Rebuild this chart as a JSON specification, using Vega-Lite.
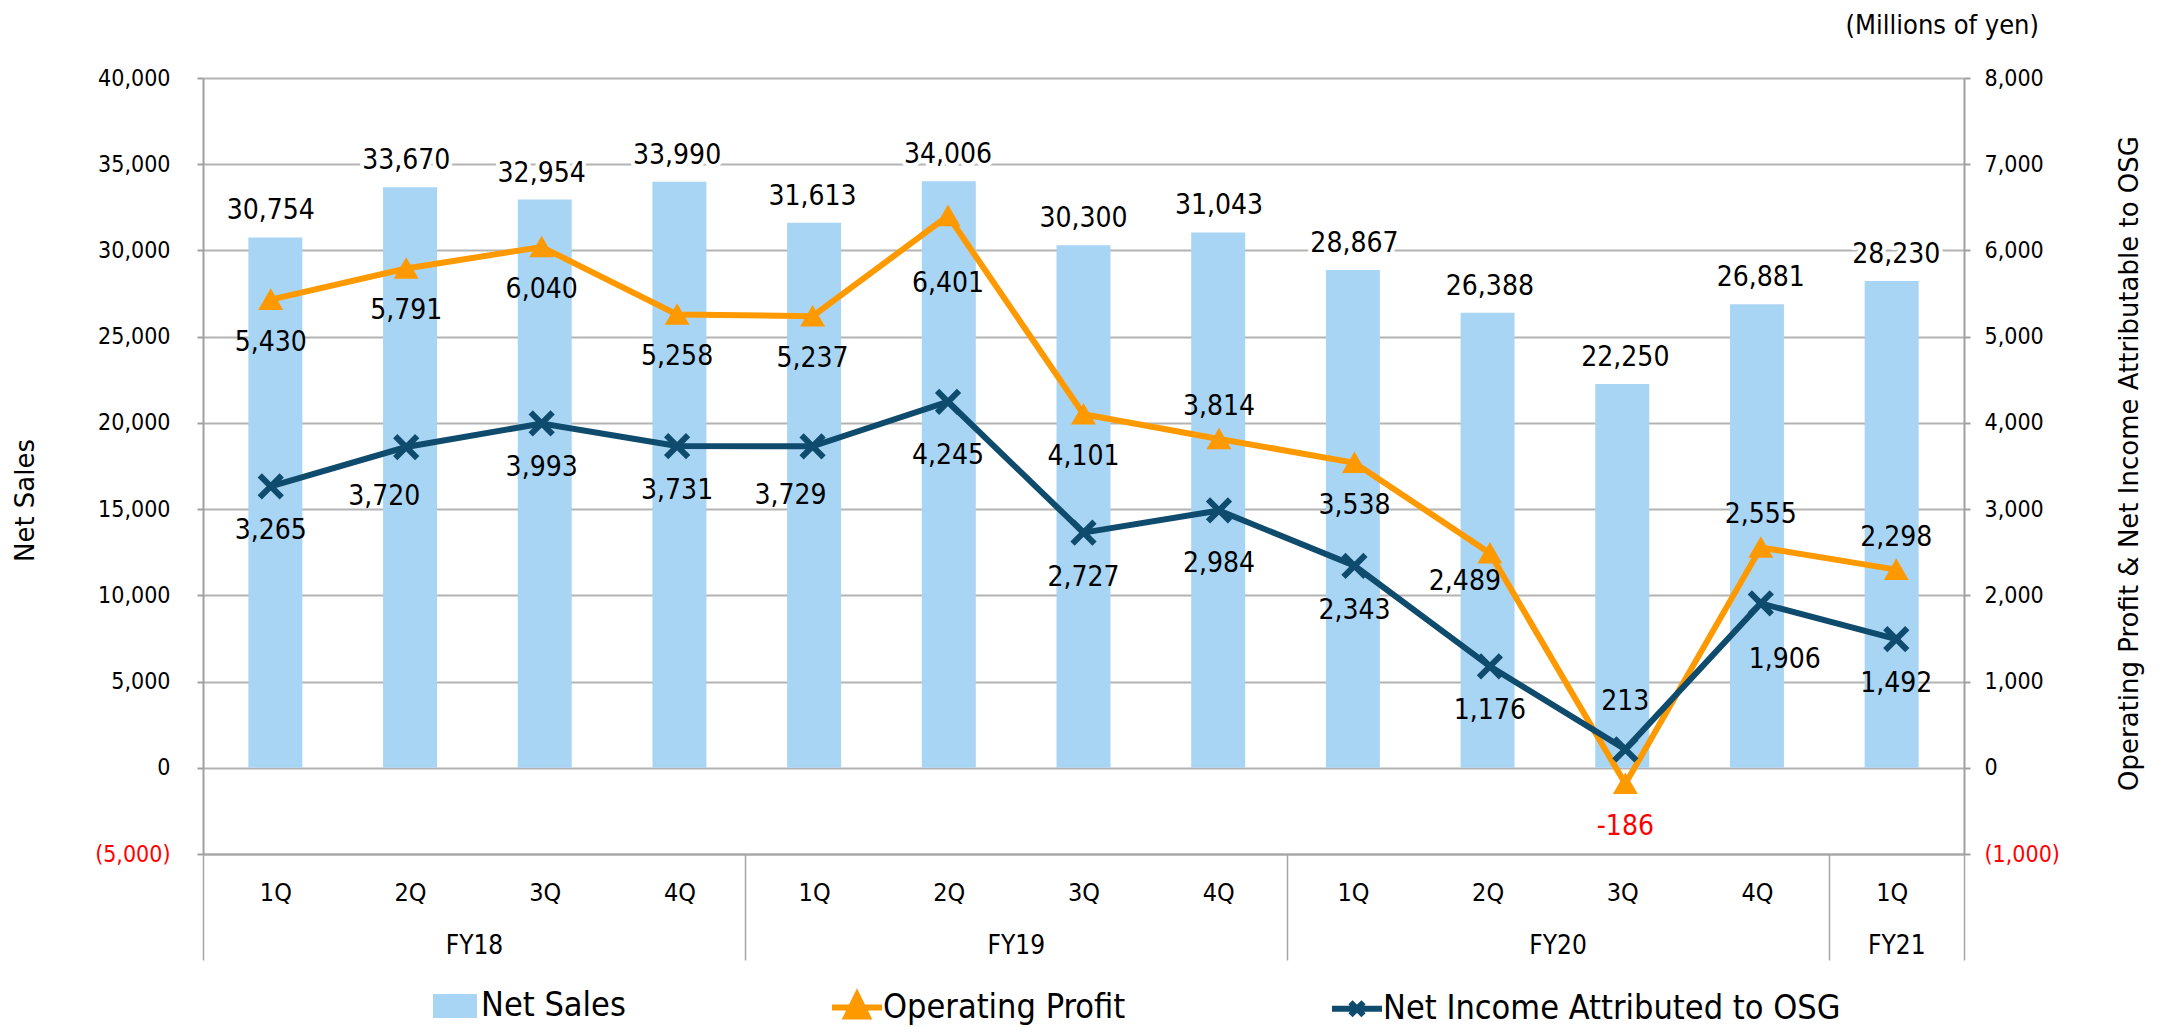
{
  "$schema": "https://vega.github.io/schema/vega-lite/v6.json",
  "width": 1761,
  "height": 776,
  "autosize": {"type": "none"},
  "padding": {"left": 203, "top": 78, "right": 197, "bottom": 173},
  "background": "white",
  "config": {
    "locale": {"number": {"decimal": ".", "thousands": ",", "grouping": [3], "currency": ["$", ""], "minus": "-"}},
    "view": {"stroke": null},
    "font": "DejaVu Sans Condensed",
    "axis": {"labelFont": "DejaVu Sans Condensed", "labelColor": "#000000", "titleFont": "DejaVu Sans", "titleFontWeight": "normal", "titleColor": "#000000"},
    "title": {"font": "DejaVu Sans Condensed", "fontWeight": "normal", "color": "#000000"}
  },
  "title": {"text": "(Millions of yen)", "anchor": "end", "frame": "group", "orient": "top", "fontSize": 27, "dx": 75, "offset": 14, "baseline": "middle"},
  "data": {"values": [
    {"i": 1, "q": "1Q", "fy": "FY18", "sales": 30754, "op": 5430, "ni": 3265},
    {"i": 2, "q": "2Q", "fy": "FY18", "sales": 33670, "op": 5791, "ni": 3720},
    {"i": 3, "q": "3Q", "fy": "FY18", "sales": 32954, "op": 6040, "ni": 3993},
    {"i": 4, "q": "4Q", "fy": "FY18", "sales": 33990, "op": 5258, "ni": 3731},
    {"i": 5, "q": "1Q", "fy": "FY19", "sales": 31613, "op": 5237, "ni": 3729},
    {"i": 6, "q": "2Q", "fy": "FY19", "sales": 34006, "op": 6401, "ni": 4245},
    {"i": 7, "q": "3Q", "fy": "FY19", "sales": 30300, "op": 4101, "ni": 2727},
    {"i": 8, "q": "4Q", "fy": "FY19", "sales": 31043, "op": 3814, "ni": 2984},
    {"i": 9, "q": "1Q", "fy": "FY20", "sales": 28867, "op": 3538, "ni": 2343},
    {"i": 10, "q": "2Q", "fy": "FY20", "sales": 26388, "op": 2489, "ni": 1176},
    {"i": 11, "q": "3Q", "fy": "FY20", "sales": 22250, "op": -186, "ni": 213},
    {"i": 12, "q": "4Q", "fy": "FY20", "sales": 26881, "op": 2555, "ni": 1906},
    {"i": 13, "q": "1Q", "fy": "FY21", "sales": 28230, "op": 2298, "ni": 1492}
  ]},
  "resolve": {"scale": {"x": "independent", "y": "independent"}, "axis": {"x": "independent", "y": "independent"}},
  "layer": [
    {
      "mark": {"type": "bar", "size": 54},
      "encoding": {
        "x": {"field": "i", "type": "quantitative",
          "scale": {"domain": [0.5, 13.5], "nice": false, "zero": false},
          "axis": {"orient": "bottom", "values": [1,2,3,4,5,6,7,8,9,10,11,12,13],
            "labelExpr": "['1Q','2Q','3Q','4Q'][(datum.value - 1) % 4]",
            "ticks": false, "grid": false, "domain": true, "domainColor": "#a6a6a6", "domainWidth": 2,
            "labelPadding": 26, "labelFontSize": 25, "labelFlush": false, "labelOverlap": false, "title": null}},
        "y": {"field": "sales", "type": "quantitative",
          "scale": {"domain": [-5000, 40000], "nice": false, "zero": false},
          "axis": {"orient": "left", "values": [-5000,0,5000,10000,15000,20000,25000,30000,35000,40000],
            "labelExpr": "datum.value < 0 ? '(' + format(-datum.value, ',') + ')' : format(datum.value, ',')",
            "labelColor": {"condition": {"test": "datum.value < 0", "value": "#ff0000"}, "value": "#000000"},
            "labelFontSize": 23, "labelPadding": 27,
            "grid": true, "gridColor": "#b3b3b3", "gridWidth": 2,
            "domain": true, "domainColor": "#a0a0a0", "domainWidth": 2,
            "ticks": true, "tickSize": 6, "tickColor": "#a0a0a0", "tickWidth": 2,
            "title": "Net Sales", "titleFontSize": 26, "titleAngle": 270,
            "titleX": -178, "titleY": 422, "titleAlign": "center", "titleBaseline": "middle"}},
        "color": {"datum": "Net Sales", "type": "nominal",
          "scale": {"domain": ["Net Sales", "Operating Profit", "Net Income Attributed to OSG"], "range": ["#a9d5f5", "#ff9900", "#0e4b6d"]},
          "legend": {"orient": "none", "legendX": 224, "legendY": 900, "direction": "horizontal", "title": null,
            "symbolSize": 2500, "labelFontSize": 34, "labelFont": "DejaVu Sans Condensed", "labelColor": "#000000", "labelLimit": 0,
            "columnPadding": 194, "labelOffset": -2, "padding": 0, "symbolStrokeWidth": 6,
            "encode": {"symbols": {"update": {
              "shape": {"signal": "datum.value === 'Net Sales' ? 'M-0.88,-0.48H0.88V0.48H-0.88Z' : datum.value === 'Operating Profit' ? 'M-1,0H1M0,-0.5L0.42,0.36H-0.42Z' : 'M-1,0H1M-0.26,-0.26L0.26,0.26M-0.26,0.26L0.26,-0.26'"},
              "fill": {"signal": "datum.value === 'Net Sales' ? '#a9d5f5' : datum.value === 'Operating Profit' ? '#ff9900' : 'transparent'"},
              "stroke": {"signal": "datum.value === 'Net Sales' ? 'transparent' : datum.value === 'Operating Profit' ? '#ff9900' : '#0e4b6d'"},
              "strokeWidth": {"value": 6},
              "opacity": {"value": 1}
            }}}}}
      }
    },
    {
      "mark": {"type": "text", "fontSize": 28, "font": "DejaVu Sans Condensed", "baseline": "middle", "align": "center", "dy": -26, "stroke": "#ffffff", "strokeWidth": 8, "strokeJoin": "round", "fill": "#ffffff"},
      "encoding": {
        "x": {"field": "i", "type": "quantitative", "scale": {"domain": [0.5, 13.5], "nice": false, "zero": false}, "axis": null},
        "y": {"field": "sales", "type": "quantitative", "scale": {"domain": [-5000, 40000], "nice": false, "zero": false}, "axis": null},
        "text": {"field": "sales", "type": "quantitative", "format": ","}
      }
    },
    {
      "mark": {"type": "text", "fontSize": 28, "font": "DejaVu Sans Condensed", "baseline": "middle", "align": "center", "dy": -26, "color": "#000000"},
      "encoding": {
        "x": {"field": "i", "type": "quantitative", "scale": {"domain": [0.5, 13.5], "nice": false, "zero": false}, "axis": null},
        "y": {"field": "sales", "type": "quantitative", "scale": {"domain": [-5000, 40000], "nice": false, "zero": false}, "axis": null},
        "text": {"field": "sales", "type": "quantitative", "format": ","}
      }
    },
    {
      "mark": {"type": "line", "color": "#ff9900", "strokeWidth": 6},
      "encoding": {
        "x": {"field": "i", "type": "quantitative", "scale": {"domain": [0.5, 13.5], "nice": false, "zero": false}, "axis": null},
        "y": {"field": "op", "type": "quantitative", "scale": {"domain": [-1000, 8000], "nice": false, "zero": false},
          "axis": {"orient": "right", "values": [-1000,0,1000,2000,3000,4000,5000,6000,7000,8000],
            "labelExpr": "datum.value < 0 ? '(' + format(-datum.value, ',') + ')' : format(datum.value, ',')",
            "labelColor": {"condition": {"test": "datum.value < 0", "value": "#ff0000"}, "value": "#000000"},
            "labelFontSize": 23, "labelPadding": 14, "grid": false,
            "domain": true, "domainColor": "#a0a0a0", "domainWidth": 2,
            "ticks": true, "tickSize": 6, "tickColor": "#a0a0a0", "tickWidth": 2,
            "title": "Operating Profit & Net Income Attributable to OSG", "titleFontSize": 26, "titleAngle": 270,
            "titleX": 165, "titleY": 385, "titleAlign": "center", "titleBaseline": "middle"}}
      }
    },
    {
      "mark": {"type": "point", "shape": "triangle-up", "filled": true, "size": 460, "color": "#ff9900", "stroke": "#ff9900", "strokeWidth": 2, "opacity": 1},
      "encoding": {
        "x": {"field": "i", "type": "quantitative", "scale": {"domain": [0.5, 13.5], "nice": false, "zero": false}, "axis": null},
        "y": {"field": "op", "type": "quantitative", "scale": {"domain": [-1000, 8000], "nice": false, "zero": false}, "axis": null}
      }
    },
    {
      "mark": {"type": "line", "color": "#0e4b6d", "strokeWidth": 6},
      "encoding": {
        "x": {"field": "i", "type": "quantitative", "scale": {"domain": [0.5, 13.5], "nice": false, "zero": false}, "axis": null},
        "y": {"field": "ni", "type": "quantitative", "scale": {"domain": [-1000, 8000], "nice": false, "zero": false}, "axis": null}
      }
    },
    {
      "mark": {"type": "point", "shape": "M-1,-1L1,1M-1,1L1,-1", "filled": false, "size": 484, "color": "#0e4b6d", "strokeWidth": 6, "opacity": 1},
      "encoding": {
        "x": {"field": "i", "type": "quantitative", "scale": {"domain": [0.5, 13.5], "nice": false, "zero": false}, "axis": null},
        "y": {"field": "ni", "type": "quantitative", "scale": {"domain": [-1000, 8000], "nice": false, "zero": false}, "axis": null}
      }
    },
    {
      "transform": [{"filter": {"field": "i", "oneOf": [1,2,3,4,5,7,9,11]}}],
      "mark": {"type": "text", "fontSize": 28, "font": "DejaVu Sans Condensed", "baseline": "middle", "align": "center", "dy": 43},
      "encoding": {
        "x": {"field": "i", "type": "quantitative", "scale": {"domain": [0.5, 13.5], "nice": false, "zero": false}, "axis": null},
        "y": {"field": "op", "type": "quantitative", "scale": {"domain": [-1000, 8000], "nice": false, "zero": false}, "axis": null},
        "text": {"field": "op", "type": "quantitative", "format": ","},
        "color": {"condition": {"test": "datum.op < 0", "value": "#ff0000"}, "value": "#000000"}
      }
    },
    {
      "transform": [{"filter": {"field": "i", "equal": 6}}],
      "mark": {"type": "text", "fontSize": 28, "font": "DejaVu Sans Condensed", "baseline": "middle", "align": "center", "dy": 68, "color": "#000000"},
      "encoding": {
        "x": {"field": "i", "type": "quantitative", "scale": {"domain": [0.5, 13.5], "nice": false, "zero": false}, "axis": null},
        "y": {"field": "op", "type": "quantitative", "scale": {"domain": [-1000, 8000], "nice": false, "zero": false}, "axis": null},
        "text": {"field": "op", "type": "quantitative", "format": ","}
      }
    },
    {
      "transform": [{"filter": {"field": "i", "oneOf": [8,12,13]}}],
      "mark": {"type": "text", "fontSize": 28, "font": "DejaVu Sans Condensed", "baseline": "middle", "align": "center", "dy": -32, "color": "#000000"},
      "encoding": {
        "x": {"field": "i", "type": "quantitative", "scale": {"domain": [0.5, 13.5], "nice": false, "zero": false}, "axis": null},
        "y": {"field": "op", "type": "quantitative", "scale": {"domain": [-1000, 8000], "nice": false, "zero": false}, "axis": null},
        "text": {"field": "op", "type": "quantitative", "format": ","}
      }
    },
    {
      "transform": [{"filter": {"field": "i", "equal": 10}}],
      "mark": {"type": "text", "fontSize": 28, "font": "DejaVu Sans Condensed", "baseline": "middle", "align": "center", "dx": -25, "dy": 29, "color": "#000000"},
      "encoding": {
        "x": {"field": "i", "type": "quantitative", "scale": {"domain": [0.5, 13.5], "nice": false, "zero": false}, "axis": null},
        "y": {"field": "op", "type": "quantitative", "scale": {"domain": [-1000, 8000], "nice": false, "zero": false}, "axis": null},
        "text": {"field": "op", "type": "quantitative", "format": ","}
      }
    },
    {
      "transform": [{"filter": {"field": "i", "oneOf": [1,3,4,7,9,10,13]}}],
      "mark": {"type": "text", "fontSize": 28, "font": "DejaVu Sans Condensed", "baseline": "middle", "align": "center", "dy": 45, "color": "#000000"},
      "encoding": {
        "x": {"field": "i", "type": "quantitative", "scale": {"domain": [0.5, 13.5], "nice": false, "zero": false}, "axis": null},
        "y": {"field": "ni", "type": "quantitative", "scale": {"domain": [-1000, 8000], "nice": false, "zero": false}, "axis": null},
        "text": {"field": "ni", "type": "quantitative", "format": ","}
      }
    },
    {
      "transform": [{"filter": {"field": "i", "oneOf": [2,5]}}],
      "mark": {"type": "text", "fontSize": 28, "font": "DejaVu Sans Condensed", "baseline": "middle", "align": "center", "dx": -22, "dy": 50, "color": "#000000"},
      "encoding": {
        "x": {"field": "i", "type": "quantitative", "scale": {"domain": [0.5, 13.5], "nice": false, "zero": false}, "axis": null},
        "y": {"field": "ni", "type": "quantitative", "scale": {"domain": [-1000, 8000], "nice": false, "zero": false}, "axis": null},
        "text": {"field": "ni", "type": "quantitative", "format": ","}
      }
    },
    {
      "transform": [{"filter": {"field": "i", "oneOf": [6,8]}}],
      "mark": {"type": "text", "fontSize": 28, "font": "DejaVu Sans Condensed", "baseline": "middle", "align": "center", "dy": 54, "color": "#000000"},
      "encoding": {
        "x": {"field": "i", "type": "quantitative", "scale": {"domain": [0.5, 13.5], "nice": false, "zero": false}, "axis": null},
        "y": {"field": "ni", "type": "quantitative", "scale": {"domain": [-1000, 8000], "nice": false, "zero": false}, "axis": null},
        "text": {"field": "ni", "type": "quantitative", "format": ","}
      }
    },
    {
      "transform": [{"filter": {"field": "i", "equal": 11}}],
      "mark": {"type": "text", "fontSize": 28, "font": "DejaVu Sans Condensed", "baseline": "middle", "align": "center", "dy": -47, "color": "#000000"},
      "encoding": {
        "x": {"field": "i", "type": "quantitative", "scale": {"domain": [0.5, 13.5], "nice": false, "zero": false}, "axis": null},
        "y": {"field": "ni", "type": "quantitative", "scale": {"domain": [-1000, 8000], "nice": false, "zero": false}, "axis": null},
        "text": {"field": "ni", "type": "quantitative", "format": ","}
      }
    },
    {
      "transform": [{"filter": {"field": "i", "equal": 12}}],
      "mark": {"type": "text", "fontSize": 28, "font": "DejaVu Sans Condensed", "baseline": "middle", "align": "center", "dx": 24, "dy": 57, "color": "#000000"},
      "encoding": {
        "x": {"field": "i", "type": "quantitative", "scale": {"domain": [0.5, 13.5], "nice": false, "zero": false}, "axis": null},
        "y": {"field": "ni", "type": "quantitative", "scale": {"domain": [-1000, 8000], "nice": false, "zero": false}, "axis": null},
        "text": {"field": "ni", "type": "quantitative", "format": ","}
      }
    },
    {
      "mark": {"type": "rule", "opacity": 0},
      "encoding": {
        "x": {"field": "i", "type": "quantitative",
          "scale": {"domain": [0.5, 13.5], "nice": false, "zero": false},
          "axis": {"orient": "bottom", "values": [2.5, 6.5, 10.5, 13],
            "labelExpr": "datum.value < 4 ? 'FY18' : datum.value < 8 ? 'FY19' : datum.value < 12 ? 'FY20' : 'FY21'",
            "ticks": false, "grid": false, "domain": false, "labelPadding": 78, "labelFontSize": 26, "labelFlush": false, "labelOverlap": false, "title": null}}
      }
    },
    {
      "mark": {"type": "rule", "opacity": 0},
      "encoding": {
        "x": {"field": "i", "type": "quantitative",
          "scale": {"domain": [0.5, 13.5], "nice": false, "zero": false},
          "axis": {"orient": "bottom", "values": [0.5, 4.5, 8.5, 12.5, 13.5],
            "labels": false, "ticks": true, "tickSize": 106, "tickColor": "#a6a6a6", "tickWidth": 1.5,
            "grid": false, "domain": false, "title": null}}
      }
    }
  ]
}
